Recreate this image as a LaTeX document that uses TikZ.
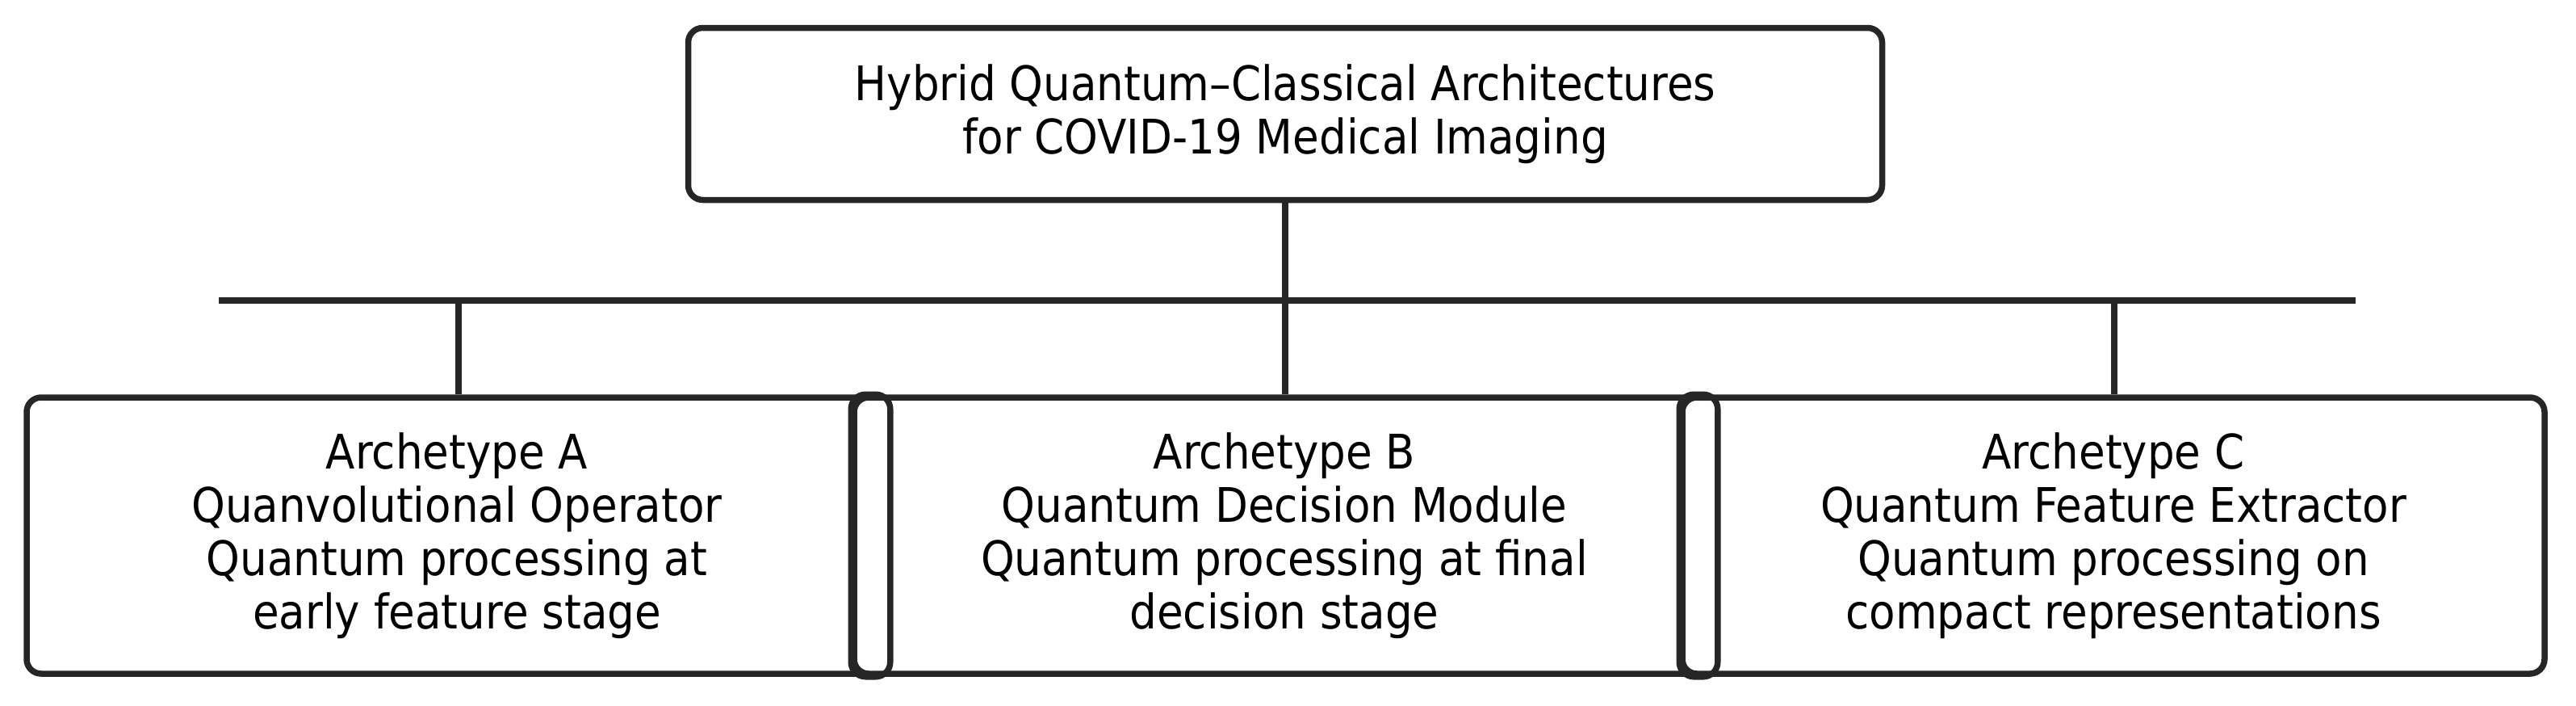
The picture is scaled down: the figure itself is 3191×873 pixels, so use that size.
\documentclass[tikz,border=0pt]{standalone}
\usepackage{fontspec}
\setmainfont{DejaVu Sans Condensed}
\begin{document}
\begin{tikzpicture}[x=1pt,y=1pt,
  box/.style={draw=black!85,line width=7.5pt,rounded corners=18pt,fill=white,font=\fontsize{59}{66}\selectfont,align=center,inner sep=0pt},
  ln/.style={draw=black!85,line width=7.5pt}]
\useasboundingbox (0,0) rectangle (3191,-873);
\node[box,minimum width=1479pt,minimum height=213pt] (top) at (1592,-141) {Hybrid Quantum--Classical Architectures\\for COVID-19 Medical Imaging};
\coordinate (hl) at (271,-372);
\coordinate (hr) at (2918,-372);
\coordinate (hm) at (1592,-372);
\coordinate (ha) at (568,-372);
\coordinate (hc) at (2619,-372);
\draw[ln] (hl) -- (hr);
\draw[ln] (top.south) -- (hm);
\node[box,minimum width=1066pt,minimum height=342pt] (A) at (566,-663) {Archetype A\\Quanvolutional Operator\\Quantum processing at\\early feature stage};
\node[box,minimum width=1066pt,minimum height=342pt] (B) at (1591,-663) {Archetype B\\Quantum Decision Module\\Quantum processing at final\\decision stage};
\node[box,minimum width=1068pt,minimum height=342pt] (C) at (2618,-663) {Archetype C\\Quantum Feature Extractor\\Quantum processing on\\compact representations};
\draw[ln] (ha) -- (ha |- A.north);
\draw[ln] (hm) -- (hm |- B.north);
\draw[ln] (hc) -- (hc |- C.north);
\draw[ln,rounded corners=18pt] (B.north west) rectangle (A.south east);
\draw[ln,rounded corners=18pt] (C.north west) rectangle (B.south east);
\end{tikzpicture}
\end{document}
